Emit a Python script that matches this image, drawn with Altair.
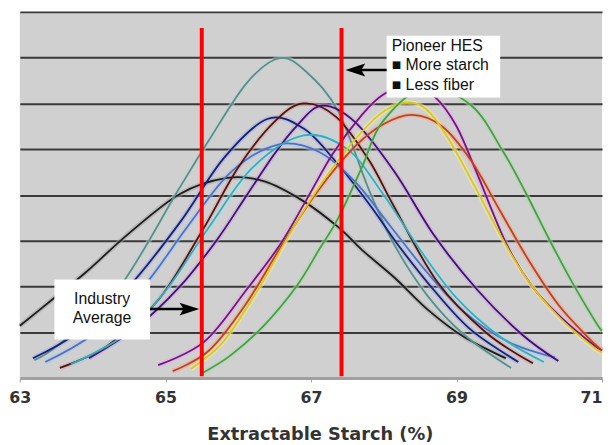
import altair as alt
import pandas as pd

# ---------------- data ----------------
curve_names = ["black", "teal", "navy", "lightblue", "maroon", "purple",
               "cyan", "magenta", "orange", "yellow", "green"]
core_colors = ["#1c1c1c", "#5e8c88", "#1a1f70", "#5070c0", "#4a1410", "#40106a",
               "#40a8b8", "#6a1a7a", "#c04020", "#d8c820", "#4a9a50"]
halo_colors = ["#a0a0a0", "#b8d8d4", "#9aa8e8", "#a8c8f0", "#d8a0a0", "#c8a0e8",
               "#a0e8f0", "#f0a0f0", "#f0a888", "#f8f0a0", "#a8e0a0"]

black_x = [63.0, 63.45, 63.9, 64.5, 65.2, 65.85, 66.35, 66.89, 67.38, 67.7, 68.15, 68.6, 69.1, 69.68]
black_y = [1.14, 1.72, 2.3, 3.16, 4.02, 4.37, 4.3, 3.87, 3.29, 2.8, 2.19, 1.5, 0.9, 0.43]

teal_x = [63.2, 63.55, 64.35, 65.17, 65.6, 66.12, 66.57, 66.95, 67.38, 67.8, 68.15, 68.6, 69.1, 69.75]
teal_y = [0.39, 0.75, 1.94, 4.09, 5.2, 6.45, 6.99, 6.67, 5.81, 4.1, 2.9, 1.8, 0.95, 0.22]

navy_x = [63.18, 63.8, 64.5, 65.2, 65.8, 66.4, 66.9, 67.34, 67.8, 68.2, 68.7, 69.2, 69.85]
navy_y = [0.43, 1.0, 2.0, 3.4, 4.8, 5.66, 5.45, 4.73, 3.8, 2.9, 1.9, 1.05, 0.35]

lightblue_x = [63.35, 64.0, 64.7, 65.3, 65.9, 66.55, 67.1, 67.6, 68.1, 68.6, 69.1, 69.7, 70.35]
lightblue_y = [0.35, 0.95, 2.0, 3.3, 4.5, 5.1, 4.95, 4.3, 3.3, 2.3, 1.45, 0.8, 0.45]

maroon_x = [63.55, 64.2, 64.9, 65.5, 66.0, 66.5, 66.9, 67.35, 67.8, 68.15, 68.74, 69.4, 70.05]
maroon_y = [0.22, 0.7, 1.7, 3.2, 4.6, 5.6, 6.0, 5.7, 4.75, 3.72, 2.09, 1.0, 0.32]

purple_x = [63.95, 64.6, 65.2, 65.7, 66.1, 66.5, 66.8, 67.15, 67.6, 68.15, 68.7, 69.3, 69.9, 70.4]
purple_y = [0.43, 1.1, 2.0, 3.0, 3.95, 4.9, 5.5, 5.95, 5.6, 4.5, 3.1, 1.9, 0.95, 0.37]

cyan_x = [63.7, 64.4, 65.0, 65.6, 66.2, 66.9, 67.5, 68.0, 68.5, 69.0, 69.6, 70.2]
cyan_y = [0.3, 0.9, 1.9, 3.3, 4.6, 5.3, 5.0, 4.0, 2.8, 1.75, 0.9, 0.35]

magenta_x = [64.9, 65.54, 66.12, 66.57, 66.93, 67.3, 67.7, 68.0, 68.38, 68.7, 69.0, 69.3, 69.68, 70.05, 70.46, 70.86, 71.0]
magenta_y = [0.28, 0.8, 1.94, 2.9, 3.87, 4.9, 5.75, 6.2, 6.41, 6.15, 5.5, 4.4, 2.95, 1.98, 1.29, 0.75, 0.6]

orange_x = [65.1, 65.6, 66.1, 66.6, 67.1, 67.6, 68.0, 68.4, 68.8, 69.2, 69.6, 70.0, 70.4, 70.8, 71.0]
orange_y = [0.15, 0.6, 1.6, 2.9, 4.1, 5.05, 5.55, 5.75, 5.5, 4.75, 3.65, 2.55, 1.6, 0.9, 0.6]

yellow_x = [65.35, 65.8, 66.3, 66.8, 67.3, 67.8, 68.1, 68.35, 68.6, 68.9, 69.28, 69.68, 70.05, 70.46, 70.86, 71.0]
yellow_y = [0.2, 0.8, 2.0, 3.4, 4.6, 5.55, 5.92, 6.02, 5.85, 5.2, 4.1, 2.9, 1.98, 1.25, 0.7, 0.55]

green_x = [65.51, 65.9, 66.35, 66.8, 67.11, 67.38, 67.7, 67.98, 68.56, 69.2, 69.64, 69.96, 70.28, 70.59, 70.91, 71.0]
green_y = [0.11, 0.5, 1.14, 2.0, 2.8, 3.51, 4.6, 5.59, 6.34, 5.96, 4.95, 4.02, 3.01, 2.09, 1.23, 1.03]

x_ticks = [63, 65, 67, 69, 71]
grid_values = [1, 2, 3, 4, 5, 6, 7, 8]

red_line_x = [65.5, 67.42]
red_line_top = 7.65
red_line_bottom = 0.04

box_x = [63.475, 68.04]
box_x2 = [64.79, 69.60]
box_y = [2.15, 7.48]
box_y2 = [0.84, 6.13]

industry_text = ["Industry", "Average"]
industry_text_x = [64.13, 64.13]
industry_text_y = [1.72, 1.31]

pioneer_text = ["Pioneer HES", "\u25A0 More starch", "\u25A0 Less fiber"]
pioneer_text_x = [68.11, 68.11, 68.11]
pioneer_text_y = [7.25, 6.84, 6.41]

arrow_x = [64.79, 67.61]
arrow_x2 = [65.33, 68.04]
arrow_y = [1.505, 6.73]
head_x = [65.33, 67.61]
head_y = [1.505, 6.73]

# ---------------- tables ----------------
curve_x = [black_x, teal_x, navy_x, lightblue_x, maroon_x, purple_x,
           cyan_x, magenta_x, orange_x, yellow_x, green_x]
curve_y = [black_y, teal_y, navy_y, lightblue_y, maroon_y, purple_y,
           cyan_y, magenta_y, orange_y, yellow_y, green_y]
rows = []
for name, core, halo, xs_, ys_ in zip(curve_names, core_colors, halo_colors, curve_x, curve_y):
    for xv, yv in zip(xs_, ys_):
        rows.append({"curve": name, "x": xv, "y": yv, "core": core, "halo": halo})
curves = pd.DataFrame(rows)

red_df = pd.DataFrame({"x": red_line_x, "y": [red_line_top] * 2, "y2": [red_line_bottom] * 2})
box_df = pd.DataFrame({"x": box_x, "x2": box_x2, "y": box_y, "y2": box_y2})
ind_df = pd.DataFrame({"x": industry_text_x, "y": industry_text_y, "t": industry_text})
pio_df = pd.DataFrame({"x": pioneer_text_x, "y": pioneer_text_y, "t": pioneer_text})
arr_df = pd.DataFrame({"x": arrow_x, "x2": arrow_x2, "y": arrow_y})
head_r = pd.DataFrame({"x": [head_x[0]], "y": [head_y[0]]})
head_l = pd.DataFrame({"x": [head_x[1]], "y": [head_y[1]]})

# ---------------- scales / axes ----------------
xs = alt.Scale(domain=[63, 71], nice=False, zero=False)
ys = alt.Scale(domain=[0, 8], nice=False, zero=False)

x_axis = alt.Axis(values=x_ticks, format="d", title="Extractable Starch (%)",
                  grid=False, domainColor="#a0a0a0", domainWidth=3,
                  tickColor="#a0a0a0", tickSize=4, tickWidth=1,
                  labelFont="DejaVu Sans", labelFontSize=16, labelFontWeight="bold",
                  labelColor="#333333", labelPadding=8, labelFlush=False, labelOverlap=False,
                  labelAlign=alt.ExprRef(expr="datum.value == 71 ? 'right' : 'center'"),
                  titleFont="DejaVu Sans", titleFontSize=18, titleFontWeight="bold",
                  titleColor="#333333", titlePadding=20, titleX=304)
y_axis = alt.Axis(values=grid_values, grid=True, gridColor="#3a3a3a", gridWidth=2,
                  labels=False, ticks=False, domain=False, title=None)

halo = alt.Chart(curves).mark_line(strokeWidth=5, opacity=0.5, interpolate="cardinal").encode(
    x=alt.X("x:Q", scale=xs, axis=x_axis), y=alt.Y("y:Q", scale=ys, axis=y_axis),
    color=alt.Color("halo:N", scale=None), detail="curve:N")
core = alt.Chart(curves).mark_line(strokeWidth=1.8, interpolate="cardinal").encode(
    x=alt.X("x:Q", scale=xs), y=alt.Y("y:Q", scale=ys),
    color=alt.Color("core:N", scale=None), detail="curve:N")

red = alt.Chart(red_df).mark_rule(color="#ff0000", strokeWidth=4).encode(
    x=alt.X("x:Q", scale=xs), y=alt.Y("y:Q", scale=ys), y2="y2:Q")

boxes = alt.Chart(box_df).mark_rect(fill="white").encode(
    x=alt.X("x:Q", scale=xs), x2="x2:Q", y=alt.Y("y:Q", scale=ys), y2="y2:Q")

ind_text = alt.Chart(ind_df).mark_text(font="Liberation Sans", fontSize=16, align="center",
                                       baseline="middle", color="#111111").encode(
    x=alt.X("x:Q", scale=xs), y=alt.Y("y:Q", scale=ys), text="t:N")
pio_text = alt.Chart(pio_df).mark_text(font="Liberation Sans", fontSize=16, align="left",
                                       baseline="middle", color="#111111").encode(
    x=alt.X("x:Q", scale=xs), y=alt.Y("y:Q", scale=ys), text="t:N")

arrows = alt.Chart(arr_df).mark_rule(color="black", strokeWidth=2.5).encode(
    x=alt.X("x:Q", scale=xs), x2="x2:Q", y=alt.Y("y:Q", scale=ys))
heads_r = alt.Chart(head_r).mark_point(shape="M1,0L-1,-0.65L-0.6,0L-1,0.65Z", filled=True,
                                       size=400, color="black", opacity=1).encode(
    x=alt.X("x:Q", scale=xs), y=alt.Y("y:Q", scale=ys))
heads_l = alt.Chart(head_l).mark_point(shape="M-1,0L1,-0.65L0.6,0L1,0.65Z", filled=True,
                                       size=400, color="black", opacity=1).encode(
    x=alt.X("x:Q", scale=xs), y=alt.Y("y:Q", scale=ys))

chart = alt.layer(halo, core, red, boxes, ind_text, pio_text, arrows, heads_r, heads_l).properties(
    width=590, height=371,
    autosize=alt.AutoSizeParams(type="none"),
    padding={"left": 12, "top": 1, "right": 3, "bottom": 65},
    background="white",
).configure_view(fill="#d0d0d0", stroke=None)

chart.save("out.html", embed_options={"renderer": "svg", "actions": False})
